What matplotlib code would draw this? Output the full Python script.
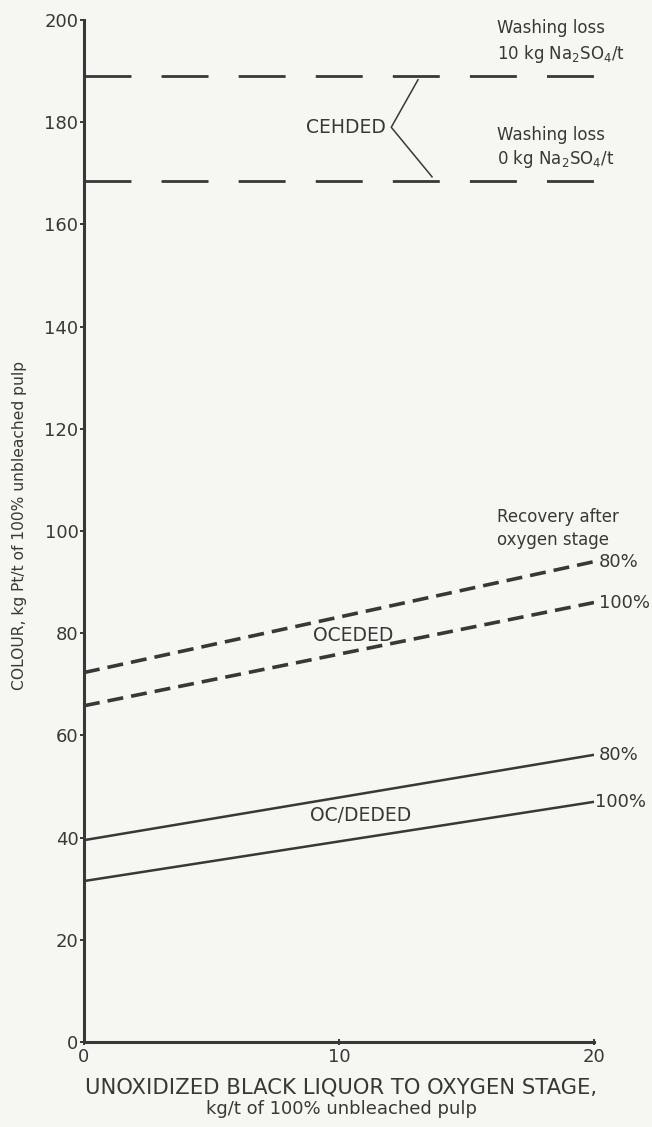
import matplotlib
matplotlib.use("Agg")
import matplotlib.pyplot as plt

plt.rcParams['font.family'] = ['DejaVu Sans']
plt.rcParams['lines.scale_dashes'] = False
plt.rcParams['mathtext.fontset'] = 'dejavusans'

INK = '#383838'
PAPER = '#f6f6f2'

# Black liquor carried to the oxygen stage, kg/t
x_ends = [0, 20]

# Colour load, kg Pt/t, at the two ends of each line
cehded_10kg = [189.0, 189.0]
cehded_0kg = [168.5, 168.5]
oceded_80 = [72.3, 94.0]
oceded_100 = [65.8, 86.0]
ocdeded_80 = [39.5, 56.2]
ocdeded_100 = [31.5, 47.0]

y_ticks = [0, 20, 40, 60, 80, 100, 120, 140, 160, 180, 200]
x_ticks = [0, 10, 20]

fig = plt.figure(figsize=(6.52, 11.27), dpi=100, facecolor=PAPER)
ax = fig.add_axes([0.1288, 0.0754, 0.7822, 0.9069], facecolor=PAPER)

# CEHDED reference levels (long dashes)
for ys in (cehded_10kg, cehded_0kg):
    ax.plot(x_ends, ys, color=INK, lw=2.0, dashes=(33.8, 21.7), dash_capstyle='butt')

# OCEDED lines (short dashes)
for ys in (oceded_80, oceded_100):
    ax.plot(x_ends, ys, color=INK, lw=2.6, dashes=(11.5, 5.8), dash_capstyle='butt')

# OC/DEDED lines (solid)
for ys in (ocdeded_80, ocdeded_100):
    ax.plot(x_ends, ys, color=INK, lw=1.8)

# Bracket joining the CEHDED label to its two lines
ax.plot([13.1, 12.05, 13.65], [188.3, 179.0, 169.3], color=INK, lw=1.1)
ax.text(11.85, 179.0, 'CEHDED', ha='right', va='center', fontsize=13.5, color=INK)

ann = dict(ha='left', va='center', fontsize=12, color=INK)
ax.text(16.2, 198.4, 'Washing loss', **ann)
ax.text(16.2, 193.3, r'10 kg Na$_2$SO$_4$/t', **ann)
ax.text(16.2, 177.5, 'Washing loss', **ann)
ax.text(16.2, 172.8, r'0 kg Na$_2$SO$_4$/t', **ann)

ax.text(16.2, 102.7, 'Recovery after', **ann)
ax.text(16.2, 98.2, 'oxygen stage', **ann)

pct = dict(ha='left', va='center', fontsize=13, color=INK)
ax.text(20.2, oceded_80[1], '80%', **pct)
ax.text(20.2, oceded_100[1], '100%', **pct)
ax.text(20.2, ocdeded_80[1], '80%', **pct)
ax.text(20.03, ocdeded_100[1], '100%', **pct)

ax.text(9.0, 79.5, 'OCEDED', ha='left', va='center', fontsize=13.5, color=INK)
ax.text(8.85, 44.4, 'OC/DEDED', ha='left', va='center', fontsize=13.5, color=INK)

ax.set_xlim(0, 20)
ax.set_ylim(0, 200)
ax.set_xticks(x_ticks)
ax.set_yticks(y_ticks)
ax.tick_params(axis='y', direction='out', length=3, width=1.4, colors=INK,
               labelsize=13, pad=1)
ax.tick_params(axis='x', direction='inout', length=5, width=1.4, colors=INK,
               labelsize=13, pad=2)

for side in ('top', 'right'):
    ax.spines[side].set_visible(False)
for side in ('left', 'bottom'):
    ax.spines[side].set_color(INK)
    ax.spines[side].set_linewidth(2.2)

# Axis titles
fig.text(20 / 652, 1 - 525 / 1127, 'COLOUR, kg Pt/t of 100% unbleached pulp',
         rotation=90, ha='center', va='center', fontsize=11.2, color=INK)
fig.text(341 / 652, 1 - 1088 / 1127, 'UNOXIDIZED BLACK LIQUOR TO OXYGEN STAGE,',
         ha='center', va='center', fontsize=15.2, color=INK)
fig.text(342 / 652, 1 - 1109 / 1127, 'kg/t of 100% unbleached pulp',
         ha='center', va='center', fontsize=13, color=INK)

fig.savefig('out.png', dpi=100, facecolor=PAPER)
